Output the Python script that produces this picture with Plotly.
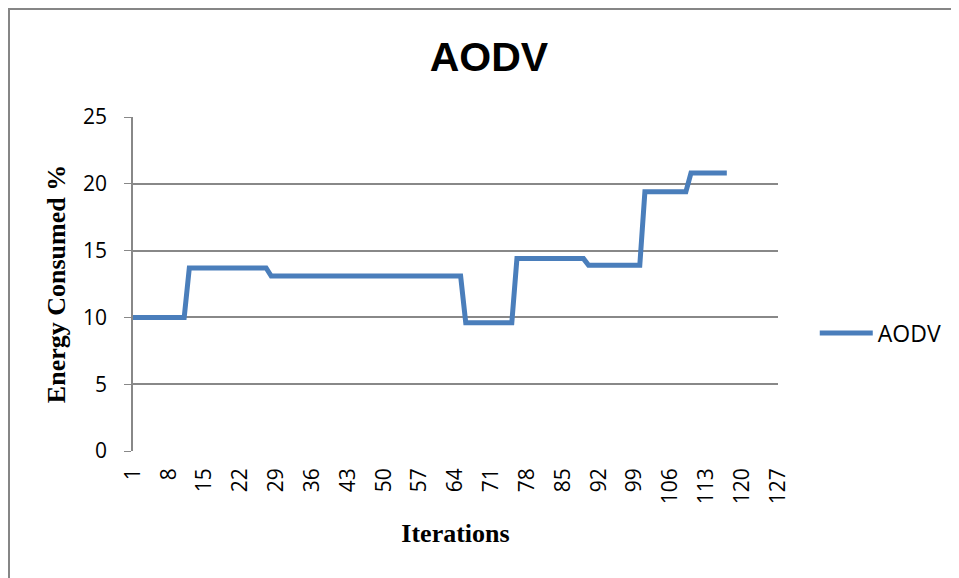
import plotly.graph_objects as go

# Energy consumed per iteration (AODV)
iterations = list(range(1, 118))
energy = [
    10.0, 10.0, 10.0, 10.0, 10.0, 10.0, 10.0, 10.0, 10.0, 10.0, 10.0,
    13.7, 13.7, 13.7, 13.7, 13.7, 13.7, 13.7, 13.7, 13.7, 13.7, 13.7, 13.7,
    13.7, 13.7, 13.7, 13.7,
    13.1, 13.1, 13.1, 13.1, 13.1, 13.1, 13.1, 13.1, 13.1, 13.1, 13.1, 13.1,
    13.1, 13.1, 13.1, 13.1, 13.1, 13.1, 13.1, 13.1, 13.1, 13.1, 13.1, 13.1,
    13.1, 13.1, 13.1, 13.1, 13.1, 13.1, 13.1, 13.1, 13.1, 13.1, 13.1, 13.1,
    13.1, 13.1,
    9.6, 9.6, 9.6, 9.6, 9.6, 9.6, 9.6, 9.6, 9.6, 9.6,
    14.4, 14.4, 14.4, 14.4, 14.4, 14.4, 14.4, 14.4, 14.4, 14.4, 14.4, 14.4,
    14.4, 14.4,
    13.9, 13.9, 13.9, 13.9, 13.9, 13.9, 13.9, 13.9, 13.9, 13.9, 13.9,
    19.4, 19.4, 19.4, 19.4, 19.4, 19.4, 19.4, 19.4, 19.4,
    20.8, 20.8, 20.8, 20.8, 20.8, 20.8, 20.8, 20.8,
]
x_ticks = list(range(1, 128, 7))
y_ticks = [0, 5, 10, 15, 20, 25]

W, H = 951, 570
L, R, T, B = 125, 181, 109, 127
plot_w = W - L - R
plot_h = H - T - B

fig = go.Figure()
fig.add_trace(go.Scatter(
    x=iterations,
    y=energy,
    mode="lines",
    name="AODV",
    line=dict(color="#4A7EBB", width=5),
))

fig.update_layout(
    width=W,
    height=H,
    margin=dict(l=L, r=R, t=T, b=B, autoexpand=False),
    paper_bgcolor="white",
    plot_bgcolor="white",
    font=dict(family="Open Sans", color="black"),
    title=dict(
        text="<b>AODV</b>",
        x=(481 - L) / plot_w, xref="paper", xanchor="center",
        y=1 - 49 / H, yref="container", yanchor="middle",
        font=dict(family="Liberation Sans", size=41, color="black"),
    ),
    showlegend=True,
    legend=dict(
        x=1.057, y=0.353, xanchor="left", yanchor="middle",
        font=dict(family="Open Sans", size=23, color="black"),
        itemwidth=53,
        bgcolor="rgba(0,0,0,0)",
    ),
    shapes=[
        # outer chart frame
        dict(type="rect", xref="paper", yref="paper",
             x0=(1 - L) / plot_w, x1=(W + 10 - L) / plot_w,
             y0=(H - B - H - 10) / plot_h, y1=(H - B - 1) / plot_h,
             line=dict(color="#868686", width=2), layer="below"),
    ],
)

fig.update_xaxes(
    range=[1, 127],
    tickvals=x_ticks,
    ticktext=[str(v) for v in x_ticks],
    tickangle=-90,
    tickfont=dict(family="Open Sans", size=21, color="black"),
    showgrid=False,
    zeroline=False,
    showline=False,
    ticks="",
    ticklabelstandoff=12,
    title=dict(
        text="<b>Iterations</b>",
        font=dict(family="Liberation Serif", size=26, color="black"),
        standoff=20,
    ),
)

fig.update_yaxes(
    range=[0, 25],
    tickvals=y_ticks,
    tickfont=dict(family="Open Sans", size=21, color="black"),
    showgrid=True,
    gridcolor="#888888",
    gridwidth=1.5,
    zeroline=False,
    showline=True,
    linecolor="#888888",
    linewidth=1.5,
    ticks="outside",
    ticklen=7,
    tickcolor="#888888",
    ticklabelstandoff=13,
    title=dict(
        text="<b>Energy Consumed %</b>",
        font=dict(family="Liberation Serif", size=26, color="black"),
        standoff=10,
    ),
)

fig.write_html("out.html")
